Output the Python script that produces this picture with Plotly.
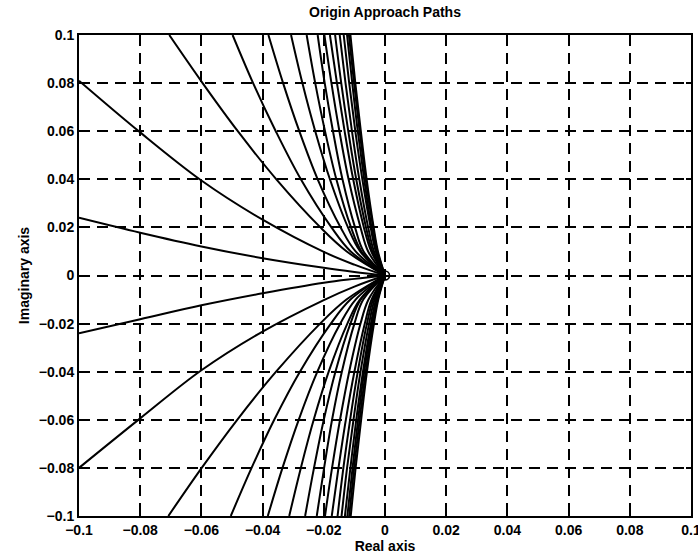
import plotly.graph_objects as go

# ---------------- data ----------------
# Curves leaving through the left edge: y values at these x positions
side_x = [-0.1, -0.08, -0.06, -0.04, -0.02, -0.01, 0.0]
side_upper_1 = [0.024, 0.0178, 0.0121, 0.0072, 0.0032, 0.0015, 0.0]
side_upper_2 = [0.081, 0.0595, 0.0395, 0.0232, 0.0098, 0.0045, 0.0]
side_lower_1 = [-0.024, -0.0182, -0.0124, -0.0074, -0.0030, -0.0014, 0.0]
side_lower_2 = [-0.080, -0.0594, -0.0394, -0.0233, -0.0102, -0.0046, 0.0]

# Curves leaving through the top / bottom edge: x values at these y levels
top_y = [0.1, 0.08, 0.06, 0.04, 0.02, 0.01, 0.0]
bottom_y = [-0.1, -0.08, -0.06, -0.04, -0.02, -0.01, 0.0]

top_x_c3 = [-0.0705, -0.0596, -0.0481, -0.0355, -0.0211, -0.0125, 0.0]
top_x_c4 = [-0.0498, -0.0431, -0.0357, -0.0275, -0.0175, -0.0112, 0.0]
top_x_c5 = [-0.0381, -0.0333, -0.0280, -0.0220, -0.0145, -0.0096, 0.0]
top_x_c6 = [-0.0307, -0.0270, -0.0228, -0.0180, -0.0121, -0.0081, 0.0]
top_x_c7 = [-0.0256, -0.0228, -0.0196, -0.0159, -0.0111, -0.0077, 0.0]
top_x_c8 = [-0.0220, -0.0197, -0.0170, -0.0139, -0.0098, -0.0070, 0.0]
top_x_c9 = [-0.0198, -0.0175, -0.0149, -0.0119, -0.0080, -0.0055, 0.0]
top_x_c10 = [-0.0180, -0.0157, -0.0132, -0.0104, -0.0069, -0.0045, 0.0]
top_x_c11 = [-0.0163, -0.0143, -0.0120, -0.0094, -0.0062, -0.0041, 0.0]
top_x_c12 = [-0.0148, -0.0129, -0.0108, -0.0084, -0.0055, -0.0036, 0.0]
top_x_c13 = [-0.0135, -0.0117, -0.0097, -0.0074, -0.0047, -0.0030, 0.0]
top_x_c14 = [-0.0124, -0.0107, -0.0089, -0.0068, -0.0044, -0.0028, 0.0]
top_x_c15 = [-0.0118, -0.0101, -0.0083, -0.0063, -0.0039, -0.0025, 0.0]
top_x_c16 = [-0.0113, -0.0097, -0.0079, -0.0060, -0.0037, -0.0023, 0.0]

bot_x_c3 = [-0.0708, -0.0599, -0.0483, -0.0356, -0.0212, -0.0126, 0.0]
bot_x_c4 = [-0.0504, -0.0436, -0.0362, -0.0278, -0.0177, -0.0113, 0.0]
bot_x_c5 = [-0.0383, -0.0335, -0.0282, -0.0221, -0.0146, -0.0096, 0.0]
bot_x_c6 = [-0.0313, -0.0275, -0.0233, -0.0184, -0.0123, -0.0082, 0.0]
bot_x_c7 = [-0.0261, -0.0232, -0.0200, -0.0162, -0.0113, -0.0079, 0.0]
bot_x_c8 = [-0.0223, -0.0199, -0.0173, -0.0141, -0.0100, -0.0071, 0.0]
bot_x_c9 = [-0.0196, -0.0173, -0.0147, -0.0117, -0.0080, -0.0054, 0.0]
bot_x_c10 = [-0.0174, -0.0152, -0.0128, -0.0100, -0.0066, -0.0044, 0.0]
bot_x_c11 = [-0.0155, -0.0136, -0.0114, -0.0089, -0.0059, -0.0039, 0.0]
bot_x_c12 = [-0.0142, -0.0124, -0.0103, -0.0080, -0.0052, -0.0034, 0.0]
bot_x_c13 = [-0.0131, -0.0113, -0.0094, -0.0072, -0.0046, -0.0029, 0.0]
bot_x_c14 = [-0.0123, -0.0106, -0.0088, -0.0068, -0.0043, -0.0028, 0.0]
bot_x_c15 = [-0.0117, -0.0101, -0.0083, -0.0063, -0.0039, -0.0024, 0.0]
bot_x_c16 = [-0.0112, -0.0096, -0.0078, -0.0059, -0.0036, -0.0022, 0.0]

tick_vals = [-0.1, -0.08, -0.06, -0.04, -0.02, 0.0, 0.02, 0.04, 0.06, 0.08, 0.1]
tick_text = ["\u22120.1", "\u22120.08", "\u22120.06", "\u22120.04", "\u22120.02", "0",
             "0.02", "0.04", "0.06", "0.08", "0.1"]

title_text = "Origin Approach Paths"
x_title = "Real axis"
y_title = "Imaginary axis"

# ---------------- figure ----------------
FONT = "Liberation Sans, Arial, Helvetica, sans-serif"
line_style = dict(color="black", width=2, shape="spline", smoothing=1.0)

fig = go.Figure()

for ys in [side_upper_1, side_upper_2, side_lower_1, side_lower_2]:
    fig.add_trace(go.Scatter(x=side_x, y=ys, mode="lines", line=line_style,
                             hoverinfo="skip", showlegend=False))

top_curves = [top_x_c3, top_x_c4, top_x_c5, top_x_c6, top_x_c7, top_x_c8, top_x_c9,
              top_x_c10, top_x_c11, top_x_c12, top_x_c13, top_x_c14, top_x_c15, top_x_c16]
bot_curves = [bot_x_c3, bot_x_c4, bot_x_c5, bot_x_c6, bot_x_c7, bot_x_c8, bot_x_c9,
              bot_x_c10, bot_x_c11, bot_x_c12, bot_x_c13, bot_x_c14, bot_x_c15, bot_x_c16]

for xs in top_curves:
    fig.add_trace(go.Scatter(x=xs, y=top_y, mode="lines", line=line_style,
                             hoverinfo="skip", showlegend=False))
for xs in bot_curves:
    fig.add_trace(go.Scatter(x=xs, y=bottom_y, mode="lines", line=line_style,
                             hoverinfo="skip", showlegend=False))

# origin marker
fig.add_trace(go.Scatter(x=[0.0], y=[0.0], mode="markers",
                         marker=dict(symbol="circle-open", size=9, color="black",
                                     line=dict(width=1.6, color="black")),
                         hoverinfo="skip", showlegend=False))

axis_common = dict(
    range=[-0.1, 0.1],
    tickvals=tick_vals,
    ticktext=tick_text,
    showgrid=True,
    gridcolor="black",
    gridwidth=1.8,
    griddash="11px,7px",
    zeroline=False,
    showline=True,
    linecolor="black",
    linewidth=2,
    mirror="ticks",
    ticks="inside",
    ticklen=5,
    tickcolor="black",
    tickwidth=1.6,
    automargin=False,
    ticklabeloverflow="allow",
    tickfont=dict(family=FONT, size=14, color="black", weight="bold"),
)

fig.update_xaxes(**axis_common,
                 title=dict(text=x_title, standoff=4,
                            font=dict(family=FONT, size=14, color="black", weight="bold")))
fig.update_yaxes(**axis_common,
                 title=dict(text=y_title, standoff=6,
                            font=dict(family=FONT, size=14, color="black", weight="bold")))

fig.update_layout(
    width=698, height=558,
    margin=dict(l=79, r=7, t=35, b=42, pad=0, autoexpand=False),
    paper_bgcolor="white",
    plot_bgcolor="white",
    title=dict(text=title_text, x=0.5, xref="paper", y=1 - 12 / 558, yref="container",
               yanchor="middle", xanchor="center",
               font=dict(family=FONT, size=14, color="black", weight="bold")),
)

fig.write_html("out.html")
